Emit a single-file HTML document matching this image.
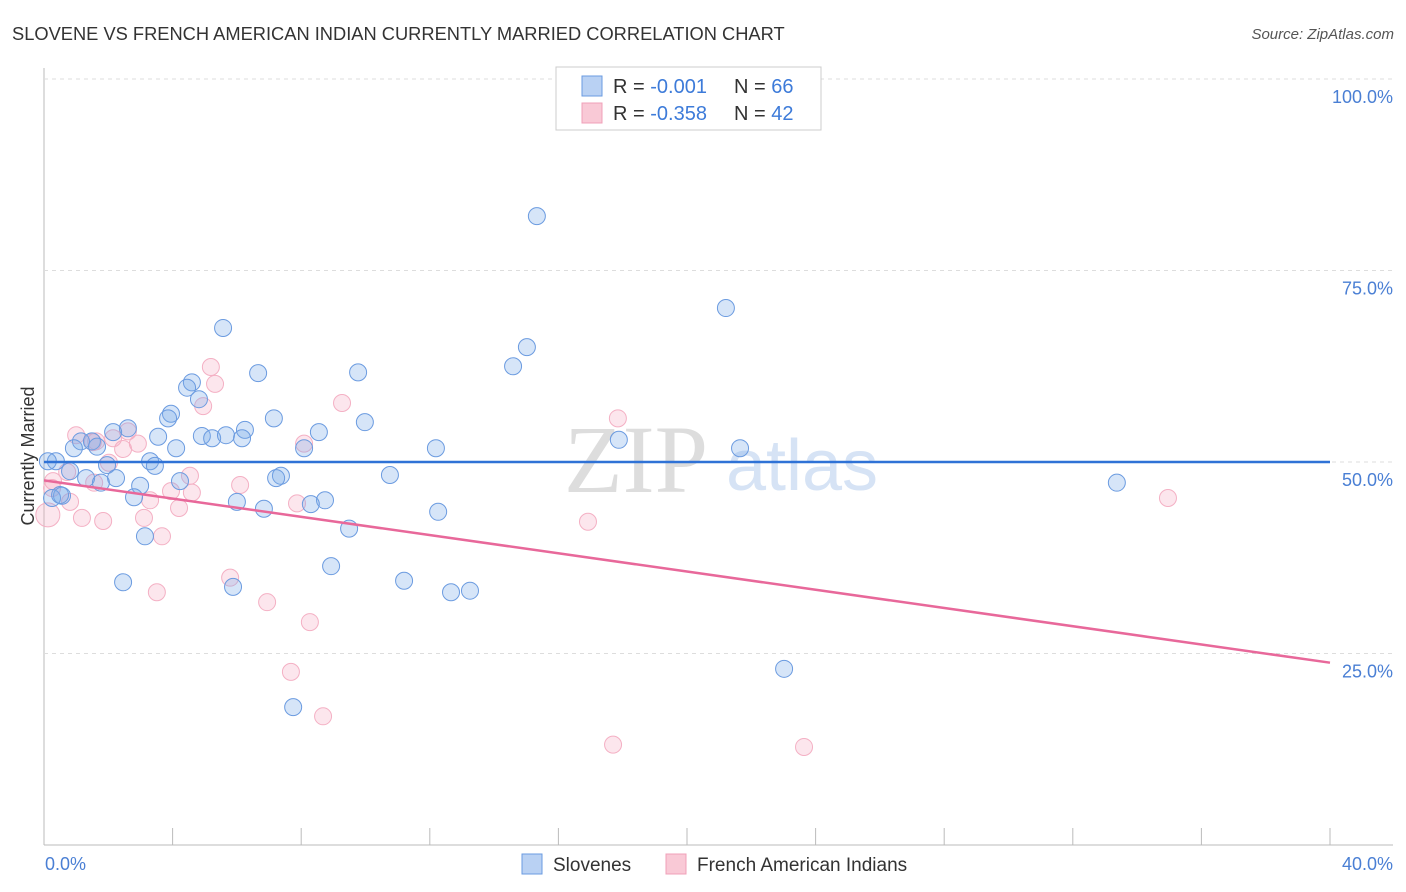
<!DOCTYPE html>
<html><head><meta charset="utf-8"><style>
body{margin:0;background:#fff;font-family:"Liberation Sans",sans-serif;}
#wrap{position:relative;width:1406px;height:892px;overflow:hidden;}
</style></head><body>
<div id="wrap">
<svg id="svg" width="1406" height="892">
<text x="12" y="40" font-size="18.3" fill="#333">SLOVENE VS FRENCH AMERICAN INDIAN CURRENTLY MARRIED CORRELATION CHART</text>
<text x="1394" y="39" font-size="15" fill="#555" font-style="italic" text-anchor="end">Source: ZipAtlas.com</text>
<text x="636" y="492" font-size="96" fill="#ddd" font-family="Liberation Serif,serif" text-anchor="middle">ZIP</text>
<text x="802" y="490" font-size="72" fill="#d6e3f5" text-anchor="middle">atlas</text>
<text x="34" y="456" font-size="18" fill="#333" text-anchor="middle" transform="rotate(-90 34 456)">Currently Married</text>
<g id="grid"></g><g id="pts"></g><g id="trend"></g>
<g>
<rect x="556" y="67" width="265" height="63" fill="#fff" stroke="#ccc"/>
<rect x="582" y="76" width="20" height="20" fill="#b9d1f3" stroke="#6a9be0"/>
<rect x="582" y="103" width="20" height="20" fill="#f9c9d6" stroke="#f0a0b8"/>
<text x="613" y="93" font-size="20" fill="#333">R = <tspan fill="#3d7bd9">-0.001</tspan><tspan x="734">N = </tspan><tspan fill="#3d7bd9">66</tspan></text>
<text x="613" y="120" font-size="20" fill="#333">R = <tspan fill="#3d7bd9">-0.358</tspan><tspan x="734">N = </tspan><tspan fill="#3d7bd9">42</tspan></text>
</g>
<g>
<rect x="522" y="854" width="20" height="20" fill="#b9d1f3" stroke="#6a9be0"/>
<text x="553" y="871" font-size="19" fill="#333">Slovenes</text>
<rect x="666" y="854" width="20" height="20" fill="#f9c9d6" stroke="#f0a0b8"/>
<text x="697" y="871" font-size="19" fill="#333">French American Indians</text>
</g>
</svg></div>
<script>
const blueX=[15.33,21.21,5.57,15.02,14.59,6.66,9.77,4.60,4.45,4.82,3.95,3.86,7.15,9.98,2.61,2.15,6.25,8.55,3.55,4.91,5.23,5.66,6.16,1.15,1.49,1.65,0.93,4.11,8.09,12.19,17.88,21.65,0.37,3.30,3.45,1.96,0.81,2.24,1.31,7.37,7.22,10.76,4.23,1.77,2.99,33.37,0.56,2.80,6.00,8.74,8.30,6.84,12.26,9.49,3.14,2.46,8.93,11.20,12.66,13.25,5.88,23.02,7.75,0.12,0.25,0.50];
const blueY=[82.1,70.1,67.5,65.0,62.5,61.6,61.7,60.4,59.7,58.2,56.3,55.7,55.7,55.2,54.4,53.9,54.2,53.9,53.3,53.4,53.1,53.5,53.1,52.7,52.7,52.0,51.8,51.8,51.8,51.8,52.9,51.8,50.1,50.1,49.5,49.6,48.8,47.9,47.9,48.2,47.9,48.3,47.5,47.3,46.9,47.3,45.6,45.4,44.8,45.0,44.5,43.9,43.5,41.3,40.3,34.3,36.4,34.5,33.0,33.2,33.7,23.0,18.0,50.1,45.3,45.7];
const pinkX=[0.12,0.28,1.00,1.52,2.61,2.92,2.46,2.02,0.72,1.56,0.81,1.18,1.84,3.30,3.11,3.67,3.51,3.95,4.20,4.54,4.60,5.19,5.32,4.95,6.10,5.79,6.94,7.87,8.09,8.27,7.68,8.68,9.27,16.92,17.85,17.70,23.64,34.96,0.25,1.62,2.15];
const pinkY=[43.1,47.5,53.5,52.6,54.0,52.4,51.7,49.9,48.7,47.3,44.8,42.7,42.3,45.0,42.7,40.3,33.0,46.2,44.0,48.2,46.0,62.4,60.2,57.3,47.0,34.9,31.7,44.6,52.4,29.1,22.6,16.8,57.7,42.2,55.7,13.1,12.8,45.3,46.6,52.7,53.1];
const yTicks=[25,50,75,100];
const blueTrend=[50.0,50.0];
const pinkTrend=[47.6,23.8];
const xRange=[0,40];
const NS="http://www.w3.org/2000/svg";
const X0=44,X1=1330,Y0=845,Y100=79;
const sx=v=>X0+(v-xRange[0])/(xRange[1]-xRange[0])*(X1-X0);
const sy=v=>Y0-v/100*(Y0-Y100);
function mk(t,a,p){const e=document.createElementNS(NS,t);for(const k in a)e.setAttribute(k,a[k]);p.appendChild(e);return e;}
const grid=document.getElementById('grid');
mk('line',{x1:44,y1:68,x2:44,y2:845,stroke:'#bbb'},grid);
mk('line',{x1:44,y1:845,x2:1393,y2:845,stroke:'#bbb'},grid);
for(let i=0;i<=10;i++){const x=X0+i*(X1-X0)/10;const t=mk('line',{x1:x,y1:828,x2:x,y2:845,stroke:'#bbb'},grid);

}
yTicks.forEach(v=>{const g=mk('line',{x1:44,y1:sy(v),x2:1393,y2:sy(v),stroke:'#ddd','stroke-dasharray':'4,4'},grid);


const t=mk('text',{x:1393,y:sy(v)+24,'font-size':18,fill:'#4a7fd4','text-anchor':'end'},grid);t.textContent=v.toFixed(1)+'%';

});
const l0=mk('text',{x:45,y:870,'font-size':18,fill:'#4a7fd4'},grid);l0.textContent=xRange[0].toFixed(1)+'%';


const l1=mk('text',{x:1393,y:870,'font-size':18,fill:'#4a7fd4','text-anchor':'end'},grid);l1.textContent=xRange[1].toFixed(1)+'%';


const pts=document.getElementById('pts');
pinkX.forEach((x,i)=>{const c=mk('circle',{cx:sx(x),cy:sy(pinkY[i]),r:i===0?12:8.5,fill:'rgba(245,165,190,0.28)',stroke:'#f4b0c4','stroke-width':1},pts);

});
blueX.forEach((x,i)=>{const c=mk('circle',{cx:sx(x),cy:sy(blueY[i]),r:8.5,fill:'rgba(120,168,232,0.3)',stroke:'#6b9be0','stroke-width':1},pts);

});
const tr=document.getElementById('trend');
const b=mk('line',{x1:sx(xRange[0]),y1:sy(blueTrend[0]),x2:sx(xRange[1]),y2:sy(blueTrend[1]),stroke:'#2f72d6','stroke-width':2.5},tr);


const p=mk('line',{x1:sx(xRange[0]),y1:sy(pinkTrend[0]),x2:sx(xRange[1]),y2:sy(pinkTrend[1]),stroke:'#e8689a','stroke-width':2.5},tr);


</script>
</body></html>
